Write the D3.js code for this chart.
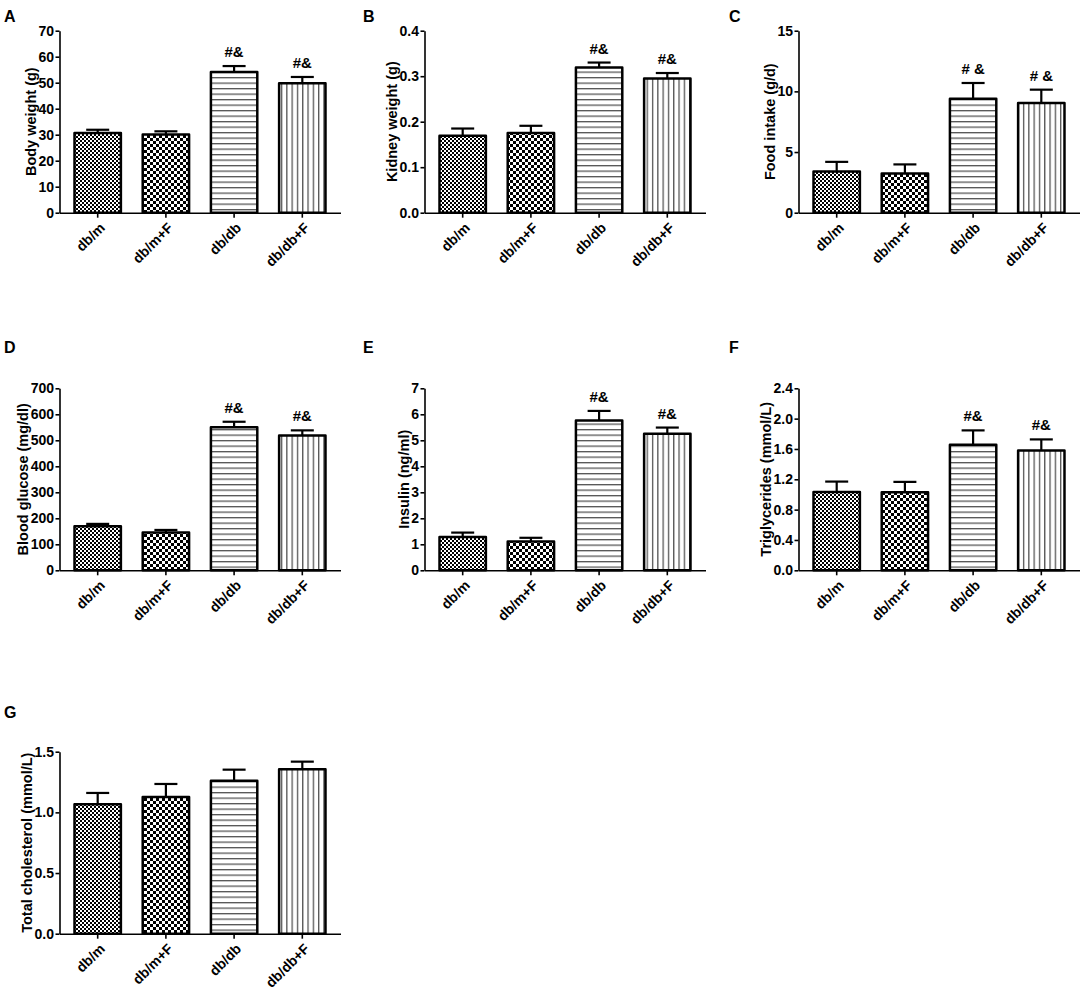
<!DOCTYPE html>
<html>
<head>
<meta charset="utf-8">
<script src="https://cdn.jsdelivr.net/npm/d3@7"></script>
<style>
  body { margin: 0; background: #fff; }
  text { font-family: Arial, "Liberation Sans", sans-serif; font-weight: bold; fill: #000; }
</style>
</head>
<body>
<svg id="chart" width="1084" height="991"></svg>
<script>
// groups on the x axis
const groups = ['db/m', 'db/m+F', 'db/db', 'db/db+F'];

// mean and SEM per panel
const bodyWeight = [30.7, 30.1, 54.1, 49.8];
const bodyWeightSem = [1.2, 1.2, 2.3, 2.4];
const kidneyWeight = [0.169, 0.175, 0.319, 0.295];
const kidneyWeightSem = [0.016, 0.016, 0.011, 0.012];
const foodIntake = [3.39, 3.23, 9.39, 9.04];
const foodIntakeSem = [0.8, 0.75, 1.3, 1.1];
const bloodGlucose = [169.5, 145.2, 549.8, 518.9];
const bloodGlucoseSem = [9, 10, 21.5, 19.3];
const insulin = [1.28, 1.11, 5.76, 5.25];
const insulinSem = [0.17, 0.14, 0.37, 0.24];
const triglycerides = [1.034, 1.03, 1.655, 1.581];
const triglyceridesSem = [0.136, 0.136, 0.19, 0.145];
const cholesterol = [1.067, 1.127, 1.261, 1.355];
const cholesterolSem = [0.093, 0.107, 0.091, 0.063];

// significance marks above bars
const marks = ['', '', '#&', '#&'];
const marksSpaced = ['', '', '# &', '# &'];
const noMarks = ['', '', '', ''];

// y axis: [max, step, decimals]
const yBodyWeight = [70, 10, 0];
const yKidney = [0.4, 0.1, 1];
const yFood = [15, 5, 0];
const yGlucose = [700, 100, 0];
const yInsulin = [7, 1, 0];
const yTrig = [2.4, 0.4, 1];
const yChol = [1.5, 0.5, 1];

const panels = [
  { letter: 'A', title: 'Body weight (g)', values: bodyWeight, sem: bodyWeightSem, y: yBodyWeight, marks: marks, col: 0, row: 0 },
  { letter: 'B', title: 'Kidney weight (g)', values: kidneyWeight, sem: kidneyWeightSem, y: yKidney, marks: marks, col: 1, row: 0 },
  { letter: 'C', title: 'Food intake (g/d)', values: foodIntake, sem: foodIntakeSem, y: yFood, marks: marksSpaced, col: 2, row: 0 },
  { letter: 'D', title: 'Blood glucose (mg/dl)', values: bloodGlucose, sem: bloodGlucoseSem, y: yGlucose, marks: marks, col: 0, row: 1 },
  { letter: 'E', title: 'Insulin (ng/ml)', values: insulin, sem: insulinSem, y: yInsulin, marks: marks, col: 1, row: 1 },
  { letter: 'F', title: 'Triglycerides (mmol/L)', values: triglycerides, sem: triglyceridesSem, y: yTrig, marks: marks, col: 2, row: 1 },
  { letter: 'G', title: 'Total cholesterol (mmol/L)', values: cholesterol, sem: cholesterolSem, y: yChol, marks: noMarks, col: 0, row: 2 }
];

// layout
const colAxisX = [59.5, 424.5, 798.5];
const colLetterX = [4, 363, 729];
const rowTop = [30.7, 388.3, 751.7];
const rowLetterY = [22, 353, 718];
const plotH = 182;
const plotW = 281;

const svg = d3.select('#chart');
svg.append('rect').attr('width', 1084).attr('height', 991).attr('fill', '#fff');

// fill patterns, one per group
const defs = svg.append('defs');
function pattern(id, w, h) {
  const p = defs.append('pattern')
    .attr('id', id)
    .attr('patternUnits', 'userSpaceOnUse')
    .attr('width', w)
    .attr('height', h);
  p.append('rect').attr('width', w).attr('height', h).attr('fill', '#fff');
  return p;
}
const fine = pattern('pat0', 4, 4);
fine.append('rect').attr('width', 2).attr('height', 2).attr('fill', '#000');
fine.append('rect').attr('x', 2).attr('y', 2).attr('width', 2).attr('height', 2).attr('fill', '#000');
const coarse = pattern('pat1', 6, 6);
coarse.append('rect').attr('width', 3).attr('height', 3).attr('fill', '#000');
coarse.append('rect').attr('x', 3).attr('y', 3).attr('width', 3).attr('height', 3).attr('fill', '#000');
const horiz = pattern('pat2', 10, 5.5);
horiz.append('rect').attr('width', 10).attr('height', 1.3).attr('fill', '#555');
const vert = pattern('pat3', 5.3, 10);
vert.append('rect').attr('width', 1.3).attr('height', 10).attr('fill', '#555');

panels.forEach(p => {
  const x0 = colAxisX[p.col];
  const top = rowTop[p.row];
  const [yMax, yStep, dec] = p.y;

  const x = d3.scaleBand()
    .domain(groups)
    .range([x0, x0 + plotW])
    .paddingInner(0.32)
    .paddingOuter(0.22);
  const y = d3.scaleLinear().domain([0, yMax]).range([top + plotH, top]);
  const y0 = y(0);

  const g = svg.append('g');

  // panel letter
  g.append('text')
    .attr('x', colLetterX[p.col])
    .attr('y', rowLetterY[p.row])
    .attr('font-size', '16px')
    .text(p.letter);

  // error bars (upper half only)
  const data = groups.map((name, i) => ({ name, v: p.values[i], e: p.sem[i], mark: p.marks[i], i }));
  const cx = d => x(d.name) + x.bandwidth() / 2;

  g.selectAll('.stem')
    .data(data)
    .enter()
    .append('line')
    .attr('x1', cx)
    .attr('x2', cx)
    .attr('y1', d => y(d.v))
    .attr('y2', d => y(d.v + d.e))
    .attr('stroke', '#000')
    .attr('stroke-width', 2.2);
  g.selectAll('.cap')
    .data(data)
    .enter()
    .append('line')
    .attr('x1', d => cx(d) - 11.5)
    .attr('x2', d => cx(d) + 11.5)
    .attr('y1', d => y(d.v + d.e))
    .attr('y2', d => y(d.v + d.e))
    .attr('stroke', '#000')
    .attr('stroke-width', 2.2);

  // bars
  g.selectAll('.bar')
    .data(data)
    .enter()
    .append('rect')
    .attr('x', d => x(d.name))
    .attr('y', d => y(d.v))
    .attr('width', x.bandwidth())
    .attr('height', d => y0 - y(d.v))
    .attr('fill', d => `url(#pat${d.i})`)
    .attr('stroke', '#000')
    .attr('stroke-width', 2.5)
    .attr('stroke-linejoin', 'round');

  // significance marks
  g.selectAll('.mark')
    .data(data.filter(d => d.mark))
    .enter()
    .append('text')
    .attr('x', cx)
    .attr('y', d => y(d.v + d.e) - 9)
    .attr('text-anchor', 'middle')
    .style('font-size', '15px')
    .text(d => d.mark);

  // y axis
  const yAxis = g.append('g')
    .attr('transform', `translate(${x0},0)`)
    .call(d3.axisLeft(y)
      .tickValues(d3.range(0, yMax + yStep / 2, yStep))
      .tickFormat(d3.format(`.${dec}f`))
      .tickSize(4)
      .tickSizeOuter(0)
      .tickPadding(1.5));
  yAxis.attr('font-family', null).attr('font-size', null);
  yAxis.selectAll('path, line').attr('stroke', '#000').attr('stroke-width', 1.6);
  yAxis.selectAll('text').style('font-size', '14px').attr('fill', '#000');

  let maxW = 0;
  yAxis.selectAll('text').each(function () { maxW = Math.max(maxW, this.getComputedTextLength()); });

  // x axis
  const xAxis = g.append('g')
    .attr('transform', `translate(0,${y0})`)
    .call(d3.axisBottom(x).tickSize(5).tickSizeOuter(0));
  xAxis.attr('font-family', null).attr('font-size', null);
  xAxis.selectAll('path, line').attr('stroke', '#000').attr('stroke-width', 1.6);
  xAxis.selectAll('text')
    .style('font-size', '14px')
    .attr('fill', '#000')
    .attr('x', 0)
    .attr('y', 0)
    .attr('dy', null)
    .attr('text-anchor', 'end')
    .attr('transform', 'translate(8,16) rotate(-45)');

  // y axis title
  g.append('text')
    .attr('transform', `translate(${x0 - maxW - 13},${top + plotH / 2}) rotate(-90)`)
    .attr('text-anchor', 'middle')
    .attr('dy', '0.35em')
    .style('font-size', '14.5px')
    .text(p.title);
});
</script>
</body>
</html>
